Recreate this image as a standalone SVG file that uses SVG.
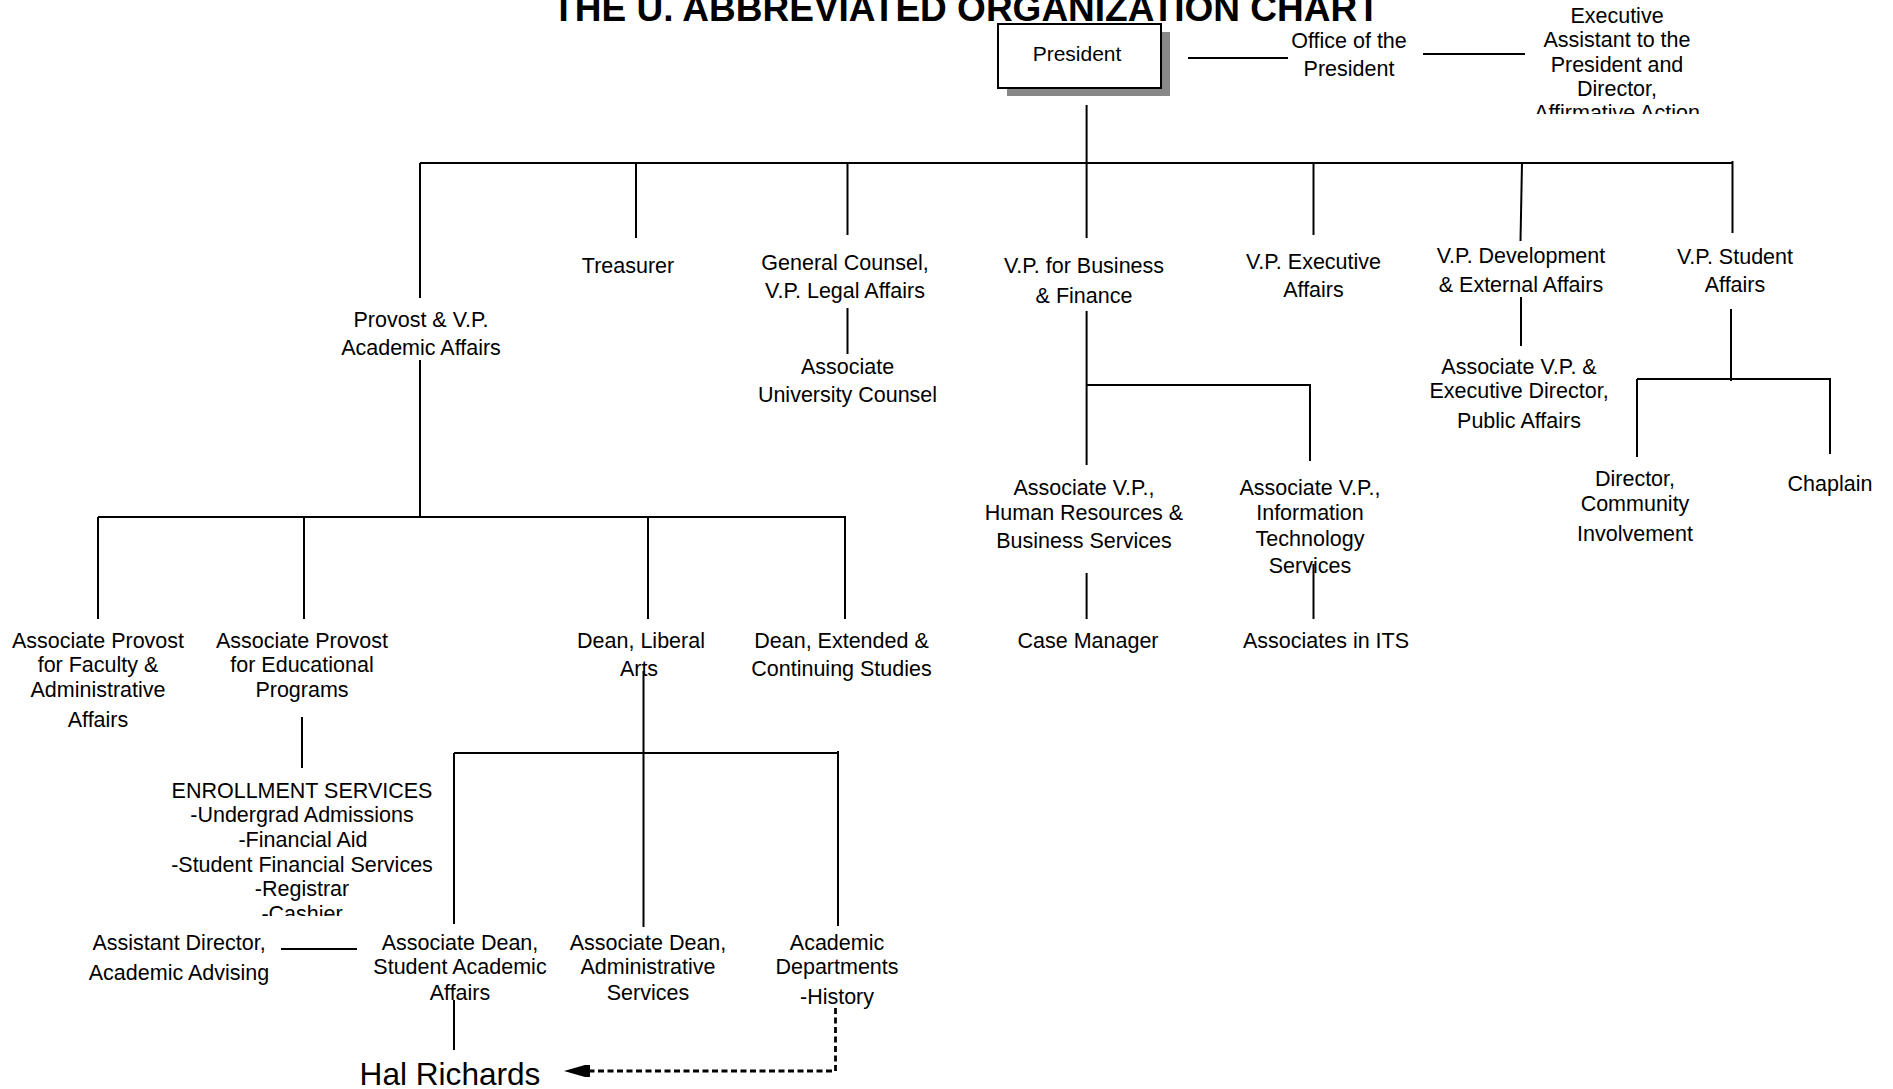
<svg xmlns="http://www.w3.org/2000/svg" width="1893" height="1089" viewBox="0 0 1893 1089">
<style>
text{font-family:"Liberation Sans",Arial,sans-serif;font-size:21.5px;fill:#000;text-anchor:middle}
.title{font-weight:bold;font-size:37px}
.big{font-size:31.6px}
.ln{stroke:#000;stroke-width:2;fill:none}
.dash{stroke:#000;stroke-width:2.8;fill:none;stroke-dasharray:6,3.5}
</style>
<defs>
<clipPath id="clipExec"><rect x="1450" y="0" width="350" height="114"/></clipPath>
<clipPath id="clipEnroll"><rect x="100" y="770" width="400" height="146"/></clipPath>
<marker id="arr" markerUnits="userSpaceOnUse" markerWidth="28" markerHeight="18" viewBox="0 0 28 18" refX="2" refY="9" orient="auto">
<path d="M0 3 H5 L26 9 L5 15 H0 Z" fill="#000"/>
</marker>
</defs>
<rect width="1893" height="1089" fill="#fff"/>
<text class="title" x="966" y="21">THE U. ABBREVIATED ORGANIZATION CHART</text>

<g id="connectors">
<line class="ln" x1="1188" y1="58" x2="1288" y2="58"/>
<line class="ln" x1="1423" y1="54" x2="1525" y2="54"/>
<line class="ln" x1="1086.6" y1="105" x2="1086.6" y2="238"/>
<line class="ln" x1="420" y1="163" x2="1733" y2="163"/>
<line class="ln" x1="420" y1="163" x2="420" y2="298"/>
<line class="ln" x1="636" y1="163" x2="636" y2="238"/>
<line class="ln" x1="847.5" y1="163" x2="847.5" y2="235"/>
<line class="ln" x1="1313.5" y1="163" x2="1313.5" y2="235"/>
<line class="ln" x1="1522" y1="163" x2="1520.5" y2="241"/>
<line class="ln" x1="1732.5" y1="161" x2="1732.5" y2="233"/>
<line class="ln" x1="847.5" y1="308" x2="847.5" y2="354"/>
<line class="ln" x1="420" y1="360" x2="420" y2="517"/>
<line class="ln" x1="1086.6" y1="311" x2="1086.6" y2="465"/>
<line class="ln" x1="1086.6" y1="385" x2="1311" y2="385"/>
<line class="ln" x1="1310" y1="385" x2="1310" y2="461"/>
<line class="ln" x1="1086.6" y1="573" x2="1086.6" y2="619"/>
<line class="ln" x1="1313.5" y1="564" x2="1313.5" y2="619"/>
<line class="ln" x1="1521" y1="297" x2="1521" y2="346"/>
<line class="ln" x1="1731" y1="309" x2="1731" y2="381"/>
<line class="ln" x1="1637" y1="379" x2="1831" y2="379"/>
<line class="ln" x1="1637" y1="379" x2="1637" y2="457"/>
<line class="ln" x1="1830" y1="379" x2="1830" y2="454"/>
<line class="ln" x1="98" y1="517" x2="846" y2="517"/>
<line class="ln" x1="98" y1="517" x2="98" y2="619"/>
<line class="ln" x1="304" y1="517" x2="304" y2="619"/>
<line class="ln" x1="648" y1="517" x2="648" y2="619"/>
<line class="ln" x1="845" y1="517" x2="845" y2="619"/>
<line class="ln" x1="302" y1="717" x2="302" y2="768"/>
<line class="ln" x1="643.5" y1="671" x2="643.5" y2="927"/>
<line class="ln" x1="454" y1="753" x2="838" y2="753"/>
<line class="ln" x1="454" y1="753" x2="454" y2="924"/>
<line class="ln" x1="838" y1="751" x2="838" y2="926"/>
<line class="ln" x1="281" y1="949" x2="357" y2="949"/>
<line class="ln" x1="454" y1="1000" x2="454" y2="1050"/>
<path class="dash" d="M835.5 1008 V1071 H588" marker-end="url(#arr)"/>
</g>

<g id="president">
<rect x="1007" y="32" width="163" height="64" fill="#888"/>
<rect x="998" y="24" width="163" height="64" fill="#fff" stroke="#000" stroke-width="2"/>
<text x="1077" y="61" style="font-size:21px">President</text>
</g>
<g id="office"><text x="1349" y="48">Office of the</text><text x="1349" y="76">President</text></g>
<g id="exec-asst" clip-path="url(#clipExec)">
<text x="1617" y="23">Executive</text><text x="1617" y="47">Assistant to the</text><text x="1617" y="72">President and</text><text x="1617" y="96">Director,</text><text x="1617" y="120">Affirmative Action</text>
</g>
<g id="provost"><text x="421" y="327">Provost &amp; V.P.</text><text x="421" y="355">Academic Affairs</text></g>
<g id="treasurer"><text x="628" y="273">Treasurer</text></g>
<g id="general-counsel"><text x="845" y="270">General Counsel,</text><text x="845" y="298">V.P. Legal Affairs</text></g>
<g id="assoc-counsel"><text x="847.5" y="374">Associate</text><text x="847.5" y="402">University Counsel</text></g>
<g id="vp-business"><text x="1084" y="273">V.P. for Business</text><text x="1084" y="303">&amp; Finance</text></g>
<g id="vp-exec"><text x="1313.5" y="269">V.P. Executive</text><text x="1313.5" y="297">Affairs</text></g>
<g id="vp-dev"><text x="1521" y="263">V.P. Development</text><text x="1521" y="292">&amp; External Affairs</text></g>
<g id="vp-student"><text x="1735" y="264">V.P. Student</text><text x="1735" y="292">Affairs</text></g>
<g id="assoc-vp-public"><text x="1519" y="374">Associate V.P. &amp;</text><text x="1519" y="398">Executive Director,</text><text x="1519" y="428">Public Affairs</text></g>
<g id="director-community"><text x="1635" y="486">Director,</text><text x="1635" y="511">Community</text><text x="1635" y="541">Involvement</text></g>
<g id="chaplain"><text x="1830" y="491">Chaplain</text></g>
<g id="assoc-vp-hr"><text x="1084" y="495">Associate V.P.,</text><text x="1084" y="520">Human Resources &amp;</text><text x="1084" y="548">Business Services</text></g>
<g id="assoc-vp-its"><text x="1310" y="495">Associate V.P.,</text><text x="1310" y="520">Information</text><text x="1310" y="546">Technology</text><text x="1310" y="573">Services</text></g>
<g id="case-manager"><text x="1088" y="648">Case Manager</text></g>
<g id="associates-its"><text x="1326" y="648">Associates in ITS</text></g>
<g id="assoc-provost-faculty"><text x="98" y="648">Associate Provost</text><text x="98" y="672">for Faculty &amp;</text><text x="98" y="697">Administrative</text><text x="98" y="727">Affairs</text></g>
<g id="assoc-provost-edu"><text x="302" y="648">Associate Provost</text><text x="302" y="672">for Educational</text><text x="302" y="697">Programs</text></g>
<g id="dean-liberal"><text x="641" y="648">Dean, Liberal</text><text x="639" y="676">Arts</text></g>
<g id="dean-extended"><text x="841.5" y="648">Dean, Extended &amp;</text><text x="841.5" y="676">Continuing Studies</text></g>
<g id="enrollment" clip-path="url(#clipEnroll)">
<text x="302" y="798">ENROLLMENT SERVICES</text><text x="302" y="822">-Undergrad Admissions</text><text x="303" y="847">-Financial Aid</text><text x="302" y="872">-Student Financial Services</text><text x="302" y="896">-Registrar</text><text x="302" y="921">-Cashier</text>
</g>
<g id="asst-director"><text x="179" y="950">Assistant Director,</text><text x="179" y="980">Academic Advising</text></g>
<g id="assoc-dean-student"><text x="460" y="950">Associate Dean,</text><text x="460" y="974">Student Academic</text><text x="460" y="1000">Affairs</text></g>
<g id="assoc-dean-admin"><text x="648" y="950">Associate Dean,</text><text x="648" y="974">Administrative</text><text x="648" y="1000">Services</text></g>
<g id="academic-depts"><text x="837" y="950">Academic</text><text x="837" y="974">Departments</text><text x="837" y="1004">-History</text></g>
<g id="hal-richards"><text class="big" x="450" y="1085">Hal Richards</text></g>
</svg>
